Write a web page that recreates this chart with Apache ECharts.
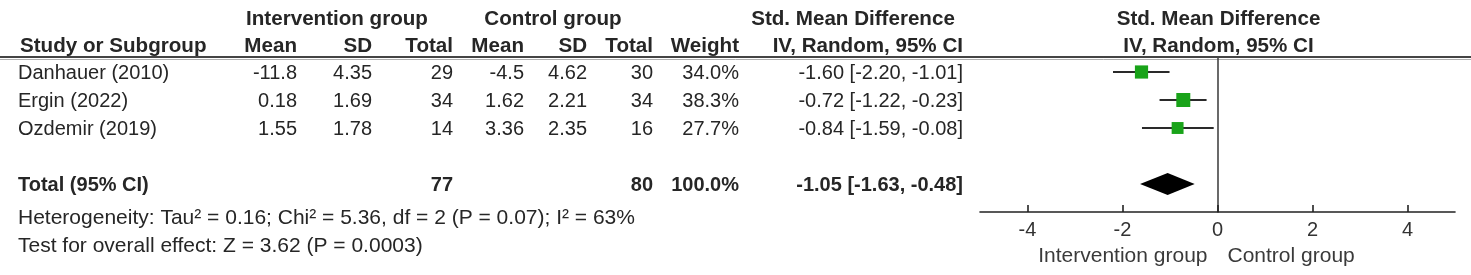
<!DOCTYPE html>
<html>
<head>
<meta charset="utf-8">
<script src="https://cdn.jsdelivr.net/npm/echarts@6/dist/echarts.min.js"></script>
<style>
  html, body { margin: 0; padding: 0; background: #fff; }
  #main { width: 1471px; height: 275px; }
</style>
</head>
<body>
<div id="main"></div>
<script>
// study data
var studies = ['Danhauer (2010)', 'Ergin (2022)', 'Ozdemir (2019)'];
var intMean = ['-11.8', '0.18', '1.55'];
var intSD = ['4.35', '1.69', '1.78'];
var intN = [29, 34, 14];
var ctrlMean = ['-4.5', '1.62', '3.36'];
var ctrlSD = ['4.62', '2.21', '2.35'];
var ctrlN = [30, 34, 16];
var weights = [34.0, 38.3, 27.7];
var smd = [-1.60, -0.72, -0.84];
var ciLow = [-2.20, -1.22, -1.59];
var ciHigh = [-1.01, -0.23, -0.08];

var totalIntN = 77;
var totalCtrlN = 80;
var totalWeight = 100.0;
var pooled = [-1.05, -1.63, -0.48]; // estimate, low, high

var xTicks = [-4, -2, 0, 2, 4];
var heterogeneity = 'Heterogeneity: Tau\u00b2 = 0.16; Chi\u00b2 = 5.36, df = 2 (P = 0.07); I\u00b2 = 63%';
var overallEffect = 'Test for overall effect: Z = 3.62 (P = 0.0003)';
var favLeft = 'Intervention group';
var favRight = 'Control group';

var FONT = '"Liberation Sans", Arial, sans-serif';
var TXT = '#262626';

var chart = echarts.init(document.getElementById('main'));

var ci = function(est, lo, hi) {
    return est.toFixed(2) + ' [' + lo.toFixed(2) + ', ' + hi.toFixed(2) + ']';
};

// forest rows: one per study, blank row, then total
var rowY = studies.map(function(s, i) { return i + 0.5; });
var totalY = 4.5;

var studyData = studies.map(function(s, i) {
    return [smd[i], rowY[i], ciLow[i], ciHigh[i], 14 * Math.sqrt(weights[i] / 38.3)];
});

chart.setOption({
    animation: false,
    grid: { left: 980, right: 16, top: 58, bottom: 63 },
    xAxis: {
        type: 'value', min: -5, max: 5,
        axisLine: { onZero: false, lineStyle: { color: '#222', width: 1.6 } },
        axisTick: { inside: true, length: 7, customValues: xTicks, lineStyle: { color: '#222', width: 1.6 } },
        axisLabel: { customValues: xTicks, margin: 8, fontFamily: FONT, fontSize: 20, color: '#333' },
        splitLine: { show: false }
    },
    yAxis: {
        type: 'value', min: 0, max: 5.5, inverse: true,
        axisLine: { show: true, onZero: true, lineStyle: { color: '#444', width: 1.6 } },
        axisTick: { show: false },
        axisLabel: { show: false },
        splitLine: { show: false }
    },
    series: [
        {
            type: 'custom',
            data: studyData,
            renderItem: function(params, api) {
                var c = api.coord([api.value(0), api.value(1)]);
                var a = api.coord([api.value(2), api.value(1)]);
                var b = api.coord([api.value(3), api.value(1)]);
                var s = api.value(4);
                return {
                    type: 'group',
                    children: [
                        { type: 'line', shape: { x1: a[0], y1: a[1], x2: b[0], y2: b[1] },
                          style: { stroke: '#2a2a2a', lineWidth: 2 } },
                        { type: 'rect', shape: { x: c[0] - s / 2, y: c[1] - s / 2, width: s, height: s },
                          style: { fill: '#19a319' } }
                    ]
                };
            }
        },
        {
            type: 'custom',
            data: [[pooled[0], totalY, pooled[1], pooled[2]]],
            renderItem: function(params, api) {
                var c = api.coord([api.value(0), api.value(1)]);
                var a = api.coord([api.value(2), api.value(1)]);
                var b = api.coord([api.value(3), api.value(1)]);
                var h = 11;
                return {
                    type: 'polygon',
                    shape: { points: [[a[0], c[1]], [c[0], c[1] - h], [b[0], c[1]], [c[0], c[1] + h]] },
                    style: { fill: '#000' }
                };
            }
        }
    ]
});

// table text, placed on the rows of the plot's y axis
var py = function(v) { return chart.convertToPixel({ gridIndex: 0 }, [0, v])[1]; };
var zeroX = chart.convertToPixel({ gridIndex: 0 }, [0, 0])[0];

var g = [];
var txt = function(s, x, y, align, bold, size, color) {
    g.push({
        type: 'text', x: x, y: y, silent: true,
        style: {
            text: s, textAlign: align, textVerticalAlign: 'middle',
            align: align, verticalAlign: 'middle',
            font: (bold ? 'bold ' : '') + (size || 20) + 'px ' + FONT,
            fill: color || TXT
        }
    });
};

// column right edges
var colX = { name: 18, iMean: 297, iSD: 372, iN: 453, cMean: 524, cSD: 587, cN: 653, w: 739, ci: 963 };
var HB = 20.6;

// headers
txt('Intervention group', 337, 19, 'center', true, HB);
txt('Control group', 553, 19, 'center', true, HB);
txt('Std. Mean Difference', 853, 19, 'center', true, HB);
txt('Std. Mean Difference', zeroX + 1, 19, 'center', true, HB);
txt('Study or Subgroup', 20, 46, 'left', true, HB);
txt('Mean', colX.iMean, 46, 'right', true, HB);
txt('SD', colX.iSD, 46, 'right', true, HB);
txt('Total', colX.iN, 46, 'right', true, HB);
txt('Mean', colX.cMean, 46, 'right', true, HB);
txt('SD', colX.cSD, 46, 'right', true, HB);
txt('Total', colX.cN, 46, 'right', true, HB);
txt('Weight', colX.w, 46, 'right', true, HB);
txt('IV, Random, 95% CI', colX.ci, 46, 'right', true, HB);
txt('IV, Random, 95% CI', zeroX + 1, 46, 'center', true, HB);

g.push({ type: 'line', shape: { x1: 0, y1: 57, x2: 1471, y2: 57 }, style: { stroke: '#444', lineWidth: 2 } });
g.push({ type: 'line', shape: { x1: 0, y1: 59.5, x2: 1471, y2: 59.5 }, style: { stroke: '#b0b0b0', lineWidth: 1 } });

studies.forEach(function(s, i) {
    var y = py(rowY[i]) + 1;
    txt(s, colX.name, y, 'left');
    txt(intMean[i], colX.iMean, y, 'right');
    txt(intSD[i], colX.iSD, y, 'right');
    txt(String(intN[i]), colX.iN, y, 'right');
    txt(ctrlMean[i], colX.cMean, y, 'right');
    txt(ctrlSD[i], colX.cSD, y, 'right');
    txt(String(ctrlN[i]), colX.cN, y, 'right');
    txt(weights[i].toFixed(1) + '%', colX.w, y, 'right');
    txt(ci(smd[i], ciLow[i], ciHigh[i]), colX.ci, y, 'right');
});

var ty = py(totalY) + 1;
txt('Total (95% CI)', colX.name, ty, 'left', true);
txt(String(totalIntN), colX.iN, ty, 'right', true);
txt(String(totalCtrlN), colX.cN, ty, 'right', true);
txt(totalWeight.toFixed(1) + '%', colX.w, ty, 'right', true);
txt(ci(pooled[0], pooled[1], pooled[2]), colX.ci, ty, 'right', true);

txt(heterogeneity, colX.name, 218, 'left', false, 21);
txt(overallEffect, colX.name, 246, 'left', false, 21);

txt(favLeft, zeroX - 10, 256, 'right', false, 21, '#3a3a3a');
txt(favRight, zeroX + 10, 256, 'left', false, 21, '#3a3a3a');

chart.setOption({ graphic: g });
</script>
</body>
</html>
